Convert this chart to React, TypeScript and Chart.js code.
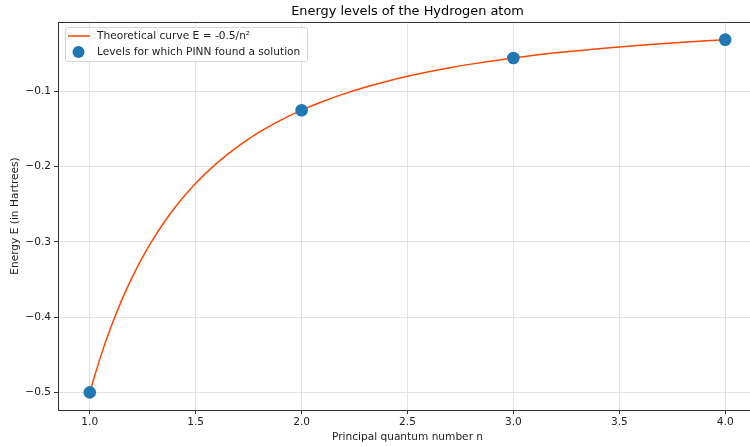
import React, { useEffect, useRef } from "react";
import { Chart, registerables } from "chart.js";

Chart.register(...registerables);

const curveN = [1.0, 1.05, 1.1, 1.15, 1.2, 1.25, 1.3, 1.4, 1.5, 1.6, 1.7, 1.8, 1.9, 2.0, 2.1, 2.2, 2.3, 2.4, 2.5, 2.6, 2.7, 2.8, 2.9, 3.0, 3.2, 3.4, 3.6, 3.8, 4.0];
const curveE = [-0.5, -0.4535, -0.4132, -0.3781, -0.3472, -0.32, -0.2959, -0.2551, -0.2222, -0.1953, -0.173, -0.1543, -0.1385, -0.125, -0.1134, -0.1033, -0.0945, -0.0868, -0.08, -0.074, -0.0686, -0.0638, -0.0595, -0.0556, -0.0488, -0.0433, -0.0386, -0.0346, -0.0313];
const levelN = [1, 2, 3, 4];
const levelE = [-0.5, -0.125, -0.0556, -0.0313];
const xTicks = [1.0, 1.5, 2.0, 2.5, 3.0, 3.5, 4.0];
const yTicks = [-0.5, -0.4, -0.3, -0.2, -0.1];

const TITLE = "Energy levels of the Hydrogen atom";
const X_TITLE = "Principal quantum number n";
const Y_TITLE = "Energy E (in Hartrees)";
const CURVE_LABEL = "Theoretical curve E = -0.5/n\u00b2";
const LEVEL_LABEL = "Levels for which PINN found a solution";

const LINE_COLOR = "#ff4500";
const DOT_COLOR = "#1f77b4";
const FONT = "'DejaVu Sans', sans-serif";
const FS = 10.6;

export default function App() {
  const ref = useRef<HTMLCanvasElement | null>(null);

  useEffect(() => {
    if (!ref.current) return;

    const overlay = {
      id: "overlay",
      afterDraw(chart: any) {
        const ctx = chart.ctx;
        const a = chart.chartArea;
        ctx.save();
        // top spine
        ctx.strokeStyle = "#333333";
        ctx.lineWidth = 1;
        ctx.beginPath();
        ctx.moveTo(a.left, a.top + 0.5);
        ctx.lineTo(a.right, a.top + 0.5);
        ctx.stroke();
        // title
        ctx.fillStyle = "#000000";
        ctx.font = `12.9px ${FONT}`;
        ctx.textAlign = "center";
        ctx.textBaseline = "middle";
        ctx.fillText(TITLE, (a.left + a.right) / 2, 12);
        // legend
        const lx = 65, ly = 27, lw = 242, lh = 34;
        ctx.fillStyle = "rgba(255,255,255,0.8)";
        ctx.strokeStyle = "#d6d6d6";
        ctx.lineWidth = 1;
        ctx.beginPath();
        (ctx as any).roundRect(lx + 0.5, ly + 0.5, lw, lh, 2);
        ctx.fill();
        ctx.stroke();
        ctx.strokeStyle = LINE_COLOR;
        ctx.lineWidth = 1.5;
        ctx.beginPath();
        ctx.moveTo(68, 36);
        ctx.lineTo(90, 36);
        ctx.stroke();
        ctx.fillStyle = DOT_COLOR;
        ctx.beginPath();
        ctx.arc(78.5, 52, 6, 0, Math.PI * 2);
        ctx.fill();
        ctx.fillStyle = "#222222";
        ctx.font = `${FS}px ${FONT}`;
        ctx.textAlign = "left";
        ctx.textBaseline = "middle";
        ctx.fillText(CURVE_LABEL, 97, 36);
        ctx.fillText(LEVEL_LABEL, 97, 52);
        ctx.restore();
      },
    };

    const chart = new Chart(ref.current, {
      type: "scatter",
      data: {
        datasets: [
          {
            type: "line",
            label: CURVE_LABEL,
            data: curveN.map((n, i) => ({ x: n, y: curveE[i] })),
            borderColor: LINE_COLOR,
            backgroundColor: LINE_COLOR,
            borderWidth: 1.5,
            pointRadius: 0,
            cubicInterpolationMode: "monotone",
            fill: false,
            order: 2,
          } as any,
          {
            type: "scatter",
            label: LEVEL_LABEL,
            data: levelN.map((n, i) => ({ x: n, y: levelE[i] })),
            backgroundColor: DOT_COLOR,
            borderColor: DOT_COLOR,
            pointRadius: 6.3,
            borderWidth: 0,
            order: 1,
          },
        ],
      },
      options: {
        responsive: false,
        animation: false,
        layout: { padding: { top: 22, left: 0, right: 13, bottom: 0 } },
        plugins: {
          legend: { display: false },
          title: { display: false },
          tooltip: { enabled: false },
        },
        scales: {
          x: {
            type: "linear",
            min: 0.85,
            max: 4.15,
            afterBuildTicks: (s: any) => {
              s.ticks = xTicks.map((v) => ({ value: v }));
            },
            afterFit: (s: any) => {
              s.height = 37;
            },
            ticks: {
              callback: (v: any) => Number(v).toFixed(1),
              color: "#222222",
              font: { family: FONT, size: FS },
              padding: 2,
              maxRotation: 0,
            },
            grid: {
              color: "#e3e3e3",
              tickColor: "#333333",
              tickLength: 4,
              lineWidth: 1,
            },
            border: { color: "#333333", width: 1 },
            title: {
              display: true,
              text: X_TITLE,
              color: "#222222",
              font: { family: FONT, size: FS },
              padding: { top: 1, bottom: 3 },
            },
          },
          y: {
            type: "linear",
            min: -0.5234375,
            max: -0.0078125,
            afterBuildTicks: (s: any) => {
              s.ticks = yTicks.map((v) => ({ value: v }));
            },
            afterFit: (s: any) => {
              s.width = 58;
            },
            ticks: {
              callback: (v: any) => "\u2212" + Math.abs(Number(v)).toFixed(1),
              color: "#222222",
              font: { family: FONT, size: FS },
              padding: 3,
            },
            grid: {
              color: "#e3e3e3",
              tickColor: "#333333",
              tickLength: 4,
              lineWidth: 1,
            },
            border: { color: "#333333", width: 1 },
            title: {
              display: true,
              text: Y_TITLE,
              color: "#222222",
              font: { family: FONT, size: FS },
              padding: { top: 9, bottom: 4 },
            },
          },
        },
      },
      plugins: [overlay],
    });

    return () => chart.destroy();
  }, []);

  return (
    <div style={{ position: "absolute", left: 0, top: 0, width: 750, height: 447, overflow: "hidden", background: "#ffffff" }}>
      <canvas ref={ref} width={770} height={447} style={{ width: 770, height: 447, display: "block" }} />
    </div>
  );
}
